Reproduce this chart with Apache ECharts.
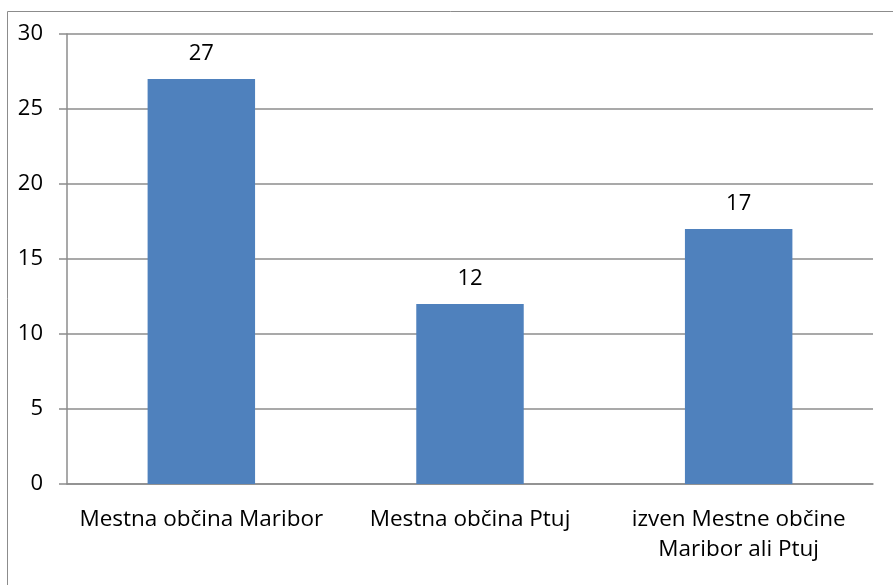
<!DOCTYPE html>
<html><head><meta charset="utf-8">
<script src="https://cdn.jsdelivr.net/npm/echarts@6/dist/echarts.min.js"></script>
<style>html,body{margin:0;padding:0;background:#fff}#c{width:893px;height:585px}</style>
</head><body><div id="c"></div>
<script>
const categories = ["Mestna občina Maribor", "Mestna občina Ptuj", "izven Mestne občine\nMaribor ali Ptuj"];
const values = [27, 12, 17];
const yTicks = {min: 0, max: 30, interval: 5};

const chart = echarts.init(document.getElementById('c'), null, {renderer: 'canvas'});
const font = "Open Sans, Liberation Sans, sans-serif";
chart.setOption({
  animation: false,
  textStyle: {fontFamily: font},
  graphic: [{
    type: 'rect', shape: {x: 7.5, y: 11.5, width: 900, height: 600},
    style: {fill: 'none', stroke: '#8c8c8c', lineWidth: 1}, silent: true, z: -1
  }],
  grid: {left: 67, right: 20, top: 34, bottom: 101, containLabel: false},
  xAxis: {
    type: 'category', data: categories,
    axisLine: {lineStyle: {color: '#8c8c8c', width: 1.5}},
    axisTick: {length: 6, lineStyle: {color: '#8c8c8c', width: 1.5}},
    axisLabel: {color: '#000', fontSize: 22.5, margin: 21, lineHeight: 30, interval: 0, fontFamily: font}
  },
  yAxis: {
    type: 'value', min: yTicks.min, max: yTicks.max, interval: yTicks.interval,
    axisLine: {show: true, lineStyle: {color: '#8c8c8c', width: 1.5}},
    axisTick: {show: true, length: 8, lineStyle: {color: '#8c8c8c', width: 1.5}},
    splitLine: {lineStyle: {color: '#8c8c8c', width: 1.5}},
    axisLabel: {color: '#000', fontSize: 22, margin: 24, fontFamily: font}
  },
  series: [{
    type: 'bar', data: values, barCategoryGap: '60%',
    itemStyle: {color: '#4f81bd'},
    label: {show: true, position: 'top', distance: 14, color: '#000', fontSize: 22, fontFamily: font}
  }]
});
</script></body></html>
